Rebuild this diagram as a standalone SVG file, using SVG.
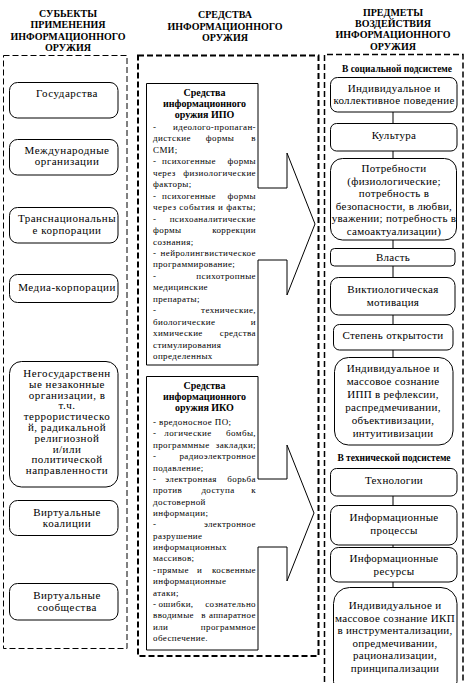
<svg xmlns="http://www.w3.org/2000/svg" width="467" height="683" viewBox="0 0 467 683" font-family="Liberation Serif, serif">
<style>
text{font-family:'Liberation Serif',serif;fill:#000}
.hdr{font-size:10px;font-weight:bold;text-anchor:middle}
.lt{font-size:11px;text-anchor:middle;letter-spacing:.5px}
.rt{font-size:11px;text-anchor:middle;letter-spacing:.3px}
.sub{font-size:9.5px;font-weight:bold;text-anchor:middle}
.mb{font-size:10px;font-weight:bold;text-anchor:middle}
.mt{font-size:9px;letter-spacing:.4px}
.e{text-anchor:end}
.c{text-anchor:middle}
.node{fill:#fff;stroke:#000;stroke-width:1}
.col{fill:none;stroke:#000;stroke-dasharray:6 3}
.conn{fill:none;stroke:#000;stroke-width:1}
</style>
<rect width="467" height="683" fill="#fff"/>

<g id="headers">
<text class="hdr" x="68" y="16.5">СУБЬЕКТЫ</text>
<text class="hdr" x="68" y="27.5">ПРИМЕНЕНИЯ</text>
<text class="hdr" x="68" y="39.5">ИНФОРМАЦИОННОГО</text>
<text class="hdr" x="68" y="50.5">ОРУЖИЯ</text>
<text class="hdr" x="225" y="17.5">СРЕДСТВА</text>
<text class="hdr" x="225" y="29.5">ИНФОРМАЦИОННОГО</text>
<text class="hdr" x="225" y="40.5">ОРУЖИЯ</text>
<text class="hdr" x="393" y="15.5">ПРЕДМЕТЫ</text>
<text class="hdr" x="393" y="26.5">ВОЗДЕЙСТВИЯ</text>
<text class="hdr" x="393" y="37.5">ИНФОРМАЦИОННОГО</text>
<text class="hdr" x="393" y="49.5">ОРУЖИЯ</text>
</g>

<g id="columns">
<rect class="col" x="3.5" y="55.5" width="123.5" height="593" stroke-width="1"/>
<rect class="col" x="138" y="55.5" width="180.5" height="600.5" stroke-width="2"/>
<path class="col" d="M324.5,700 V54.5 H463 V700" stroke-width="1.5"/>
</g>

<g id="connectors">
<polyline class="conn" points="258,188 287,188 287,153 315,224 287,295 287,260 258,260"/>
<polyline class="conn" points="258,479 287,479 287,445 314,513 287,581 287,547 258,547"/>
<line class="conn" x1="393" y1="112" x2="393" y2="123"/>
<line class="conn" x1="393" y1="151" x2="393" y2="158"/>
<line class="conn" x1="393" y1="240" x2="393" y2="248"/>
<line class="conn" x1="393" y1="266" x2="393" y2="277"/>
<line class="conn" x1="393" y1="315" x2="393" y2="324"/>
<line class="conn" x1="393" y1="350" x2="393" y2="357"/>
<line class="conn" x1="393" y1="496" x2="393" y2="505"/>
<line class="conn" x1="393" y1="545" x2="393" y2="547"/>
<line class="conn" x1="393" y1="582" x2="393" y2="587"/>
</g>

<g id="n-gos"><rect class="node" x="9.5" y="82.5" width="108.5" height="35.5" rx="8"/>
<text class="lt" x="67" y="96.5">Государства</text></g>
<g id="n-mezhd"><rect class="node" x="9.5" y="139.5" width="108.5" height="35.5" rx="8"/>
<text class="lt" x="67" y="153.5">Международные</text><text class="lt" x="67" y="165">организации</text></g>
<g id="n-trans"><rect class="node" x="9.5" y="207.5" width="108.5" height="35.5" rx="8"/>
<text class="lt" x="67" y="221.5">Транснациональны</text><text class="lt" x="67" y="233.5">е корпорации</text></g>
<g id="n-media"><rect class="node" x="9.5" y="274.5" width="108.5" height="28" rx="8"/>
<text class="lt" x="67" y="290.5">Медиа-корпорации</text></g>
<g id="n-negos"><rect class="node" x="9.5" y="361.5" width="108.5" height="125.5" rx="12"/>
<text class="lt" x="67" y="377">Негосударственн</text>
<text class="lt" x="67" y="387.8">ые незаконные</text>
<text class="lt" x="67" y="398.6">организации, в</text>
<text class="lt" x="67" y="409.4">т.ч.</text>
<text class="lt" x="67" y="420.2">террористическо</text>
<text class="lt" x="67" y="431">й, радикальной</text>
<text class="lt" x="67" y="441.8">религиозной</text>
<text class="lt" x="67" y="452.6">и/или</text>
<text class="lt" x="67" y="463.4">политической</text>
<text class="lt" x="67" y="474.2">направленности</text></g>
<g id="n-koal"><rect class="node" x="9.5" y="500.5" width="108.5" height="35" rx="8"/>
<text class="lt" x="67" y="515.5">Виртуальные</text><text class="lt" x="67" y="527">коалиции</text></g>
<g id="n-soob"><rect class="node" x="9.5" y="583.5" width="108.5" height="36.5" rx="8"/>
<text class="lt" x="67" y="598.5">Виртуальные</text><text class="lt" x="67" y="610.5">сообщества</text></g>

<g id="n-ipo">
<path class="conn" d="M258,188 V83.5 H146.5 V365 H258 V260"/>
<text class="mb" x="204.5" y="96">Средства</text>
<text class="mb" x="204.5" y="107">информационного</text>
<text class="mb" x="204.5" y="118">оружия ИПО</text>
<text class="mt" y="130"><tspan x="153">-</tspan><tspan x="256" class="e">идеолого-пропаган-</tspan></text>
<text class="mt" y="141.45"><tspan x="153">дистские</tspan><tspan x="220" class="c">формы</tspan><tspan x="256" class="e">в</tspan></text>
<text class="mt" x="153" y="152.9">СМИ;</text>
<text class="mt" y="164.35"><tspan x="153">-</tspan><tspan x="189" class="c">психогенные</tspan><tspan x="256" class="e">формы</tspan></text>
<text class="mt" y="175.8"><tspan x="153">через</tspan><tspan x="256" class="e">физиологические</tspan></text>
<text class="mt" x="153" y="187.25">факторы;</text>
<text class="mt" y="198.7"><tspan x="153">-</tspan><tspan x="189" class="c">психогенные</tspan><tspan x="256" class="e">формы</tspan></text>
<text class="mt" x="153" y="210.15" textLength="103" lengthAdjust="spacing">через события и факты;</text>
<text class="mt" y="221.6"><tspan x="153">-</tspan><tspan x="256" class="e">психоаналитические</tspan></text>
<text class="mt" y="233.05"><tspan x="153">формы</tspan><tspan x="256" class="e">коррекции</tspan></text>
<text class="mt" x="153" y="244.5">сознания;</text>
<text class="mt" y="255.95"><tspan x="153">-</tspan><tspan x="256" class="e">нейролингвистическое</tspan></text>
<text class="mt" x="153" y="267.4">программирование;</text>
<text class="mt" y="278.85"><tspan x="153">-</tspan><tspan x="256" class="e">психотропные</tspan></text>
<text class="mt" x="153" y="290.3">медицинские</text>
<text class="mt" x="153" y="301.75">препараты;</text>
<text class="mt" y="313.2"><tspan x="153">-</tspan><tspan x="256" class="e">технические,</tspan></text>
<text class="mt" y="324.65"><tspan x="153">биологические</tspan><tspan x="256" class="e">и</tspan></text>
<text class="mt" y="336.1"><tspan x="153">химические</tspan><tspan x="256" class="e">средства</tspan></text>
<text class="mt" x="153" y="347.55">стимулирования</text>
<text class="mt" x="153" y="359">определенных</text>
</g>

<g id="n-iko">
<path class="conn" d="M258,479 V376.5 H146.5 V650 H258 V547"/>
<text class="mb" x="204.5" y="389">Средства</text>
<text class="mb" x="204.5" y="400">информационного</text>
<text class="mb" x="204.5" y="411">оружия ИКО</text>
<text class="mt" x="153" y="425">- вредоносное ПО;</text>
<text class="mt" y="436.4"><tspan x="153">-</tspan><tspan x="188" class="c">логические</tspan><tspan x="256" class="e">бомбы,</tspan></text>
<text class="mt" y="447.7"><tspan x="153">программные</tspan><tspan x="256" class="e">закладки;</tspan></text>
<text class="mt" y="459.1"><tspan x="153">-</tspan><tspan x="256" class="e">радиоэлектронное</tspan></text>
<text class="mt" x="153" y="470.5">подавление;</text>
<text class="mt" y="481.9"><tspan x="153">-</tspan><tspan x="191" class="c">электронная</tspan><tspan x="256" class="e">борьба</tspan></text>
<text class="mt" y="493.2"><tspan x="153">против</tspan><tspan x="218" class="c">доступа</tspan><tspan x="256" class="e">к</tspan></text>
<text class="mt" x="153" y="504.6">достоверной</text>
<text class="mt" x="153" y="516">информации;</text>
<text class="mt" y="527.3"><tspan x="153">-</tspan><tspan x="256" class="e">электронное</tspan></text>
<text class="mt" x="153" y="538.7">разрушение</text>
<text class="mt" x="153" y="550.1">информационных</text>
<text class="mt" x="153" y="561.4">массивов;</text>
<text class="mt" y="572.8"><tspan x="153">-</tspan><tspan x="173" class="c">прямые</tspan><tspan x="199.5" class="c">и</tspan><tspan x="256" class="e">косвенные</tspan></text>
<text class="mt" x="153" y="584.2">информационные</text>
<text class="mt" x="153" y="595.6">атаки;</text>
<text class="mt" y="606.9"><tspan x="153">-</tspan><tspan x="176" class="c">ошибки,</tspan><tspan x="256" class="e">сознательно</tspan></text>
<text class="mt" y="618.3"><tspan x="153">вводимые</tspan><tspan x="203.5" class="c">в</tspan><tspan x="256" class="e">аппаратное</tspan></text>
<text class="mt" y="629.7"><tspan x="153">или</tspan><tspan x="256" class="e">программное</tspan></text>
<text class="mt" x="153" y="641">обеспечение.</text>
</g>

<g id="lbl-social"><text class="sub" x="397" y="71.5">В социальной подсистеме</text></g>
<g id="r-povedenie"><rect class="node" x="330.5" y="77.5" width="126.5" height="34.5" rx="7"/>
<text class="rt" x="394" y="92">Индивидуальное и</text><text class="rt" x="394" y="104">коллективное поведение</text></g>
<g id="r-kultura"><rect class="node" x="330.5" y="123.5" width="126.5" height="27.5" rx="6"/>
<text class="rt" x="394" y="138.5">Культура</text></g>
<g id="r-potreb"><rect class="node" x="330.5" y="158.5" width="126" height="81.5" rx="12"/>
<text class="rt" x="394" y="172">Потребности</text>
<text class="rt" x="394" y="184.5">(физиологические;</text>
<text class="rt" x="394" y="197">потребность в</text>
<text class="rt" x="394" y="209.5">безопасности, в любви,</text>
<text class="rt" x="394" y="222">уважении; потребность в</text>
<text class="rt" x="394" y="234.5">самоактуализации)</text></g>
<g id="r-vlast"><rect class="node" x="330.5" y="248.5" width="124.5" height="17.5" rx="4"/>
<text class="rt" x="393" y="261">Власть</text></g>
<g id="r-vikt"><rect class="node" x="330.5" y="277.5" width="124.5" height="37.5" rx="8"/>
<text class="rt" x="393" y="293">Виктиологическая</text><text class="rt" x="393" y="306">мотивация</text></g>
<g id="r-stepen"><rect class="node" x="333.5" y="324.5" width="119.5" height="25.5" rx="6"/>
<text class="rt" x="393" y="339">Степень открытости</text></g>
<g id="r-ipp"><rect class="node" x="334.5" y="357.5" width="118.5" height="87.5" rx="14"/>
<text class="rt" x="393" y="372">Индивидуальное и</text>
<text class="rt" x="393" y="385">массовое сознание</text>
<text class="rt" x="393" y="398">ИПП в рефлексии,</text>
<text class="rt" x="393" y="411">распредмечивании,</text>
<text class="rt" x="393" y="424">объективизации,</text>
<text class="rt" x="393" y="437">интуитивизации</text></g>

<g id="lbl-tech"><text class="sub" x="394" y="460.5">В технической подсистеме</text></g>
<g id="r-tehn"><rect class="node" x="330.5" y="468.5" width="126.5" height="27.5" rx="6"/>
<text class="rt" x="394" y="483.5">Технологии</text></g>
<g id="r-proc"><rect class="node" x="330.5" y="505.5" width="126.5" height="39.5" rx="8"/>
<text class="rt" x="394" y="521">Информационные</text><text class="rt" x="394" y="534">процессы</text></g>
<g id="r-res"><rect class="node" x="330.5" y="547.5" width="126.5" height="34.5" rx="8"/>
<text class="rt" x="394" y="562">Информационные</text><text class="rt" x="394" y="575">ресурсы</text></g>
<g id="r-ikp"><rect class="node" x="333.5" y="587.5" width="123.5" height="110" rx="16"/>
<text class="rt" x="395" y="609">Индивидуальное и</text>
<text class="rt" x="395" y="621.5">массовое сознание ИКП</text>
<text class="rt" x="395" y="634">в инструментализации,</text>
<text class="rt" x="395" y="646.5">опредмечивании,</text>
<text class="rt" x="395" y="659">рационализации,</text>
<text class="rt" x="395" y="671.5">принципализации</text></g>
</svg>
